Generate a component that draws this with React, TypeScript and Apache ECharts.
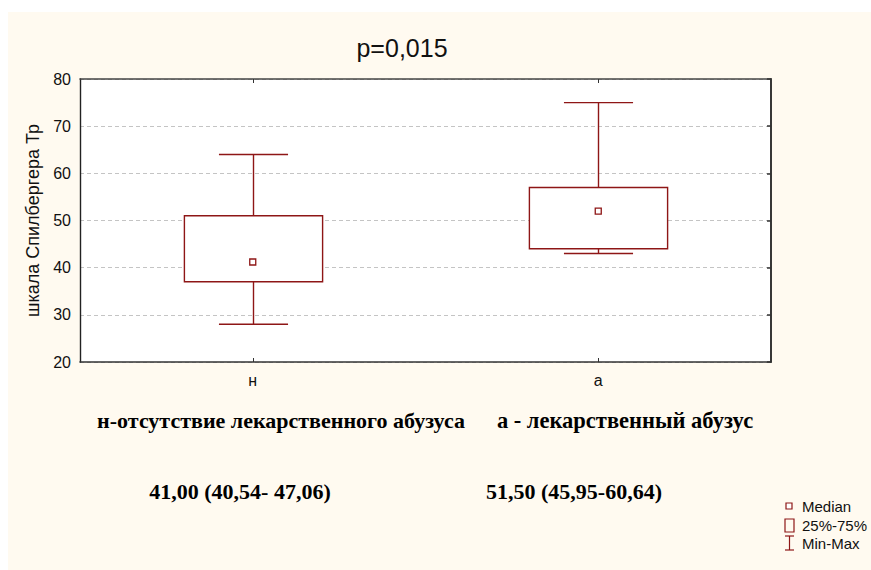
import React, { useEffect, useRef } from "react";
import * as echarts from "echarts";

// Groups and their box-plot statistics: [min, Q1, median, Q3, max]
const categories = ["н", "а"];
const minValues = [28, 43];
const q1Values = [37, 44];
const medianValues = [41.2, 52];
const q3Values = [51, 57];
const maxValues = [64, 75];

const titleText = "p=0,015";
const yAxisName = "шкала Спилбергера Тр";
const groupNotes = ["н-отсутствие лекарственного абузуса", "а - лекарственный абузус"];
const groupSummaries = ["41,00 (40,54- 47,06)", "51,50 (45,95-60,64)"];
const legendLabels = ["Median", "25%-75%", "Min-Max"];

const RED = "#8e1616";
const FONT = "Arial, 'Liberation Sans', sans-serif";
const SERIF = "'Times New Roman', 'Liberation Serif', serif";

export default function App() {
  const ref = useRef<HTMLDivElement>(null);

  useEffect(() => {
    if (!ref.current) return;
    const chart = echarts.init(ref.current, undefined, { renderer: "svg" });

    const data = categories.map((_, i) => [
      i,
      minValues[i],
      q1Values[i],
      medianValues[i],
      q3Values[i],
      maxValues[i],
    ]);

    const renderItem = (params: any, api: any) => {
      const idx = api.value(0);
      const pMin = api.coord([idx, api.value(1)]);
      const pQ1 = api.coord([idx, api.value(2)]);
      const pMed = api.coord([idx, api.value(3)]);
      const pQ3 = api.coord([idx, api.value(4)]);
      const pMax = api.coord([idx, api.value(5)]);
      const band = api.size([1, 0])[0];
      const half = band * 0.2;
      const cap = band * 0.1;
      const cx = Math.round(pQ1[0]) + 0.5;
      const lineStyle = { stroke: RED, lineWidth: 1.4, fill: null };
      return {
        type: "group",
        children: [
          { type: "line", shape: { x1: cx, y1: pQ3[1], x2: cx, y2: pMax[1] }, style: lineStyle },
          { type: "line", shape: { x1: cx - cap, y1: pMax[1], x2: cx + cap, y2: pMax[1] }, style: lineStyle },
          { type: "line", shape: { x1: cx, y1: pQ1[1], x2: cx, y2: pMin[1] }, style: lineStyle },
          { type: "line", shape: { x1: cx - cap, y1: pMin[1], x2: cx + cap, y2: pMin[1] }, style: lineStyle },
          {
            type: "rect",
            shape: { x: cx - half, y: pQ3[1], width: half * 2, height: pQ1[1] - pQ3[1] },
            style: { stroke: RED, lineWidth: 1.4, fill: "#ffffff" },
          },
          {
            type: "rect",
            shape: { x: pMed[0] - 3, y: pMed[1] - 3, width: 6, height: 6 },
            style: { stroke: RED, lineWidth: 1.3, fill: "#ffffff" },
          },
        ],
      };
    };

    const legendX = 786;
    const legendY = [506, 525, 543];

    chart.setOption({
      animation: false,
      backgroundColor: "transparent",
      textStyle: { fontFamily: FONT },
      title: {
        text: titleText,
        left: 397,
        top: 30,
        textAlign: "center",
        textStyle: { fontFamily: FONT, fontSize: 25, fontWeight: "normal", color: "#111" },
      },
      grid: {
        left: 80,
        right: 100,
        top: 79,
        bottom: 208,
        show: true,
        backgroundColor: "#ffffff",
        borderWidth: 0,
      },
      xAxis: [
        {
          type: "category",
          data: categories,
          position: "bottom",
          axisLine: { show: true, lineStyle: { color: "#333", width: 1.6 } },
          axisTick: { show: true, inside: true, alignWithLabel: true, length: 4, lineStyle: { color: "#333" } },
          axisLabel: { color: "#111", fontSize: 16, margin: 10, fontFamily: FONT },
          splitLine: { show: false },
        },
        {
          type: "category",
          data: categories,
          position: "top",
          axisLine: { show: true, lineStyle: { color: "#444", width: 1.6 } },
          axisTick: { show: true, inside: true, alignWithLabel: true, length: 4, lineStyle: { color: "#333" } },
          axisLabel: { show: false },
          splitLine: { show: false },
        },
      ],
      yAxis: [
        {
          type: "value",
          min: 20,
          max: 80,
          interval: 10,
          position: "left",
          name: yAxisName,
          nameLocation: "middle",
          nameRotate: 90,
          nameGap: 38,
          nameTextStyle: { color: "#111", fontSize: 18, fontFamily: FONT },
          axisLine: { show: true, lineStyle: { color: "#222", width: 1.4 } },
          axisTick: { show: false },
          axisLabel: { color: "#111", fontSize: 16, margin: 9, fontFamily: FONT },
          splitLine: { show: true, lineStyle: { color: "#c4c4c4", type: [4, 3], width: 1 } },
        },
        {
          type: "value",
          min: 20,
          max: 80,
          interval: 10,
          position: "right",
          axisLine: { show: true, lineStyle: { color: "#222", width: 1.8 } },
          axisTick: { show: true, inside: true, length: 4, lineStyle: { color: "#333", width: 1.5 } },
          axisLabel: { show: false },
          splitLine: { show: false },
        },
      ],
      series: [
        {
          type: "custom",
          renderItem,
          data,
          encode: { x: 0, y: [1, 2, 3, 4, 5] },
          clip: false,
          z: 5,
        },
      ],
      graphic: [
        {
          type: "text",
          x: 281,
          y: 420,
          style: {
            text: groupNotes[0],
            font: `bold 22px ${SERIF}`,
            fill: "#000",
            align: "center",
            verticalAlign: "middle",
          },
        },
        {
          type: "text",
          x: 625,
          y: 420,
          style: {
            text: groupNotes[1],
            font: `bold 22.5px ${SERIF}`,
            fill: "#000",
            align: "center",
            verticalAlign: "middle",
          },
        },
        {
          type: "text",
          x: 240,
          y: 491,
          style: {
            text: groupSummaries[0],
            font: `bold 22px ${SERIF}`,
            fill: "#000",
            align: "center",
            verticalAlign: "middle",
          },
        },
        {
          type: "text",
          x: 574,
          y: 491,
          style: {
            text: groupSummaries[1],
            font: `bold 22px ${SERIF}`,
            fill: "#000",
            align: "center",
            verticalAlign: "middle",
          },
        },
        // legend: median marker, box, whisker
        {
          type: "rect",
          shape: { x: legendX, y: legendY[0] - 3, width: 6, height: 6 },
          style: { stroke: RED, lineWidth: 1.2, fill: "#fff" },
        },
        {
          type: "rect",
          shape: { x: legendX - 1, y: legendY[1] - 6, width: 9, height: 13 },
          style: { stroke: RED, lineWidth: 1.2, fill: "transparent" },
        },
        {
          type: "line",
          shape: { x1: legendX - 1, y1: legendY[2] - 7, x2: legendX + 8, y2: legendY[2] - 7 },
          style: { stroke: RED, lineWidth: 1.2 },
        },
        {
          type: "line",
          shape: { x1: legendX + 3.5, y1: legendY[2] - 7, x2: legendX + 3.5, y2: legendY[2] + 7 },
          style: { stroke: RED, lineWidth: 1.2 },
        },
        {
          type: "line",
          shape: { x1: legendX - 1, y1: legendY[2] + 7, x2: legendX + 8, y2: legendY[2] + 7 },
          style: { stroke: RED, lineWidth: 1.2 },
        },
        ...legendLabels.map((t, i) => ({
          type: "text",
          x: 802,
          y: legendY[i],
          style: {
            text: t,
            font: `15px ${FONT}`,
            fill: "#111",
            align: "left",
            verticalAlign: "middle",
          },
        })),
      ],
    });

    return () => chart.dispose();
  }, []);

  return (
    <div style={{ position: "fixed", left: 0, top: 0, width: 871, height: 570, background: "#ffffff" }}>
      <div style={{ position: "absolute", left: 8, top: 12, right: 0, bottom: 0, background: "#fffaf0" }} />
      <div ref={ref} style={{ position: "absolute", left: 0, top: 0, width: 871, height: 570 }} />
    </div>
  );
}
